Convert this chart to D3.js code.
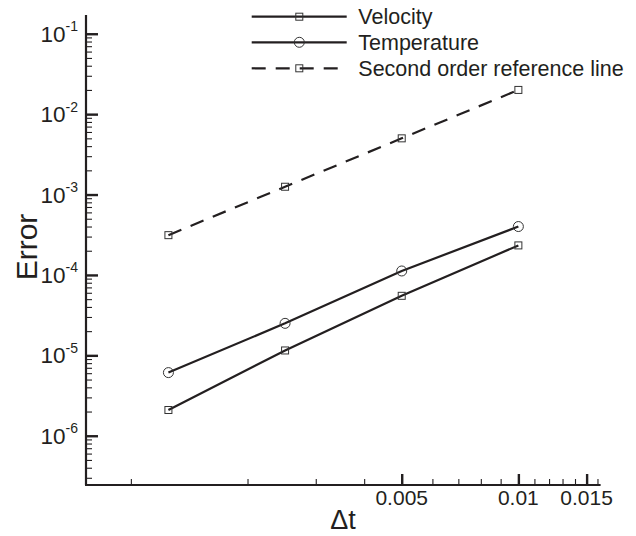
<!DOCTYPE html>
<html lang="en">
<head>
<meta charset="UTF-8">
<title>Error vs time step</title>
<script src="https://d3js.org/d3.v7.min.js"></script>
<style>
  body { margin: 0; background: #fff; }
  svg text { font-family: "Liberation Sans", Arial, sans-serif; fill: #231f20; }
</style>
</head>
<body>
<div id="chart"></div>
<script>
// data
const dt = [0.00125, 0.0025, 0.005, 0.01];
const velocity = [2.09e-6, 1.15e-5, 5.5e-5, 2.33e-4];
const temperature = [6.1e-6, 2.5e-5, 1.12e-4, 4.0e-4];
const reference = [3.125e-4, 1.25e-3, 5e-3, 2e-2];

const xMajor = [0.005, 0.01, 0.015];
const xMajorLabels = ["0.005", "0.01", "0.015"];
const xMinor = [0.001, 0.002, 0.003, 0.004, 0.006, 0.007, 0.008, 0.009,
                0.011, 0.012, 0.013, 0.014, 0.016];
const yMajor = [1e-1, 1e-2, 1e-3, 1e-4, 1e-5, 1e-6];
const yExp = ["-1", "-2", "-3", "-4", "-5", "-6"];

const legendNames = ["Velocity", "Temperature", "Second order reference line"];

const W = 636, H = 536;
const ink = "#231f20";

const svg = d3.select("#chart").append("svg")
    .attr("width", W).attr("height", H);

const x = d3.scaleLog().domain([0.000766, 0.0163]).range([86, 600.6]);
const y = d3.scaleLog().domain([0.171, 2.44e-7]).range([15, 485]);

// minor ticks on y (2..9 per decade), taken from the scale
const yMinor = y.ticks().filter(v => !yMajor.some(m => Math.abs(m - v) / m < 1e-6));

// y axis
const gy = svg.append("g").attr("transform", `translate(${x.range()[0]},0)`);
const gyMinor = gy.append("g").call(d3.axisLeft(y).tickValues(yMinor).tickSize(-6).tickFormat(""));
const gyMajor = gy.append("g").call(d3.axisLeft(y).tickValues(yMajor).tickSize(-12).tickFormat(""));
gyMajor.select(".domain").remove();
gyMinor.selectAll(".tick line").attr("stroke", ink).attr("stroke-width", 1.1);
gyMajor.selectAll(".tick line").attr("stroke", ink).attr("stroke-width", 2.4);
gyMinor.select(".domain").attr("stroke", ink).attr("stroke-width", 2.2)
  .attr("d", `M0,${y.range()[0]}V${y.range()[1]}`);

// x axis
const gx = svg.append("g").attr("transform", `translate(0,${y.range()[1]})`);
const gxMinor = gx.append("g").call(d3.axisBottom(x).tickValues(xMinor).tickSize(-6).tickFormat(""));
const gxMajor = gx.append("g").call(d3.axisBottom(x).tickValues(xMajor).tickSize(-11).tickFormat(""));
gxMajor.select(".domain").remove();
gxMinor.selectAll(".tick line").attr("stroke", ink).attr("stroke-width", 1.1);
gxMajor.selectAll(".tick line").attr("stroke", ink).attr("stroke-width", 2.4);
gxMinor.select(".domain").attr("stroke", ink).attr("stroke-width", 2.2)
  .attr("d", `M${x.range()[0] - 1},0H${x.range()[1]}`);

// y tick labels 10^n
const yl = svg.selectAll(".ylab").data(yMajor).join("text")
    .attr("class", "ylab")
    .attr("x", 78)
    .attr("y", d => y(d) + 8)
    .attr("text-anchor", "end")
    .attr("font-size", 22.5);
yl.append("tspan").text("10");
yl.append("tspan").attr("font-size", 14).attr("dy", -10.5).text((d, i) => yExp[i]);

// x tick labels
svg.selectAll(".xlab").data(xMajor).join("text")
    .attr("class", "xlab")
    .attr("x", d => x(d))
    .attr("y", 505)
    .attr("text-anchor", "middle")
    .attr("font-size", 21)
    .text((d, i) => xMajorLabels[i]);

// axis titles
svg.append("text")
    .attr("x", 343).attr("y", 529)
    .attr("text-anchor", "middle")
    .attr("font-size", 27)
    .text("\u0394t");

svg.append("text")
    .attr("transform", "translate(37,247) rotate(-90)")
    .attr("text-anchor", "middle")
    .attr("font-size", 30)
    .text("Error");

// lines and markers
const line = d3.line().x((d, i) => x(dt[i])).y(d => y(d));

function square(g, px, py) {
  g.append("rect")
    .attr("x", px - 3.5).attr("y", py - 3.5)
    .attr("width", 7).attr("height", 7)
    .attr("fill", "none").attr("stroke", "#333").attr("stroke-width", 1);
}
function circle(g, px, py) {
  g.append("circle")
    .attr("cx", px).attr("cy", py).attr("r", 5)
    .attr("fill", "none").attr("stroke", "#333").attr("stroke-width", 1);
}

const series = [
  { vals: velocity, dash: null, marker: square },
  { vals: temperature, dash: null, marker: circle },
  { vals: reference, dash: "14,10", marker: square }
];

series.forEach(s => {
  const g = svg.append("g");
  g.append("path")
    .datum(s.vals)
    .attr("d", line)
    .attr("fill", "none")
    .attr("stroke", ink)
    .attr("stroke-width", 2.2)
    .attr("stroke-dasharray", s.dash);
  s.vals.forEach((v, i) => s.marker(g, x(dt[i]), y(v)));
});

// legend
const legY = [16.7, 42.3, 68.3];
series.forEach((s, i) => {
  const g = svg.append("g");
  g.append("line")
    .attr("x1", 251.7).attr("x2", 346.7)
    .attr("y1", legY[i]).attr("y2", legY[i])
    .attr("stroke", ink).attr("stroke-width", 2.2)
    .attr("stroke-dasharray", s.dash);
  s.marker(g, 299.3, legY[i]);
  g.append("text")
    .attr("x", 358.3).attr("y", legY[i] + 7.5)
    .attr("font-size", 21.5)
    .text(legendNames[i]);
});
</script>
</body>
</html>
